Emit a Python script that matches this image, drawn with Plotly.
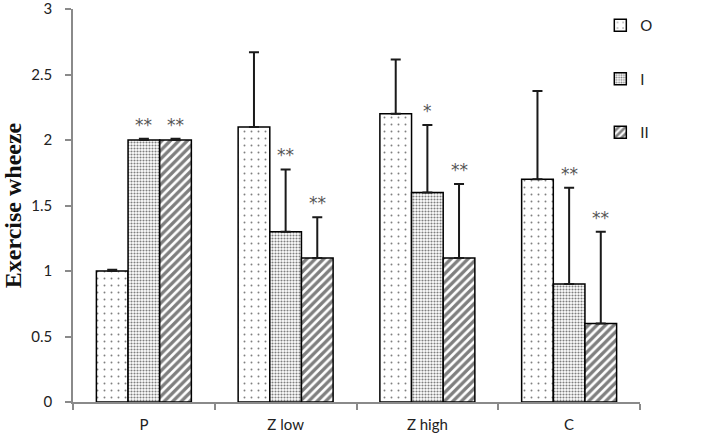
import plotly.graph_objects as go

categories = ["P", "Z low", "Z high", "C"]
series_names = ["O", "I", "II"]
values_O = [1.0, 2.1, 2.2, 1.7]
values_I = [2.0, 1.3, 1.6, 0.9]
values_II = [2.0, 1.1, 1.1, 0.6]
err_O = [0.01, 0.57, 0.415, 0.675]
err_I = [0.01, 0.475, 0.515, 0.735]
err_II = [0.01, 0.31, 0.565, 0.70]
sig_I = ["**", "**", "*", "**"]
sig_II = ["**", "**", "**", "**"]

patterns = [
    dict(shape=".", size=7, solidity=0.06, fgcolor="black", bgcolor="white", fillmode="overlay"),
    dict(shape=".", size=3, solidity=0.38, fgcolor="black", bgcolor="white", fillmode="overlay"),
    dict(shape="/", size=6, solidity=0.55, fgcolor="black", bgcolor="white", fillmode="overlay"),
]

fig = go.Figure()
for i, (name, vals, errs) in enumerate(zip(series_names,
                                            [values_O, values_I, values_II],
                                            [err_O, err_I, err_II])):
    fig.add_trace(go.Bar(
        x=categories, y=vals, name=name, legendgroup=name,
        marker=dict(color="white", line=dict(color="black", width=1.5), pattern=patterns[i]),
        error_y=dict(type="data", array=errs, arrayminus=[0] * len(errs), symmetric=False,
                     color="#1a1a1a", thickness=2, width=5),
    ))

bar_px = 31.7
for vals, errs, sigs, shift in [(values_I, err_I, sig_I, 0.0), (values_II, err_II, sig_II, bar_px)]:
    for c, v, e, s in zip(categories, vals, errs, sigs):
        fig.add_annotation(x=c, y=v + e, text=s, showarrow=False, xref="x", yref="y",
                           xshift=shift, yshift=14, yanchor="middle",
                           font=dict(family="DejaVu Sans", size=17, color="#555555"))

fig.update_layout(
    width=704, height=441,
    margin=dict(l=73, r=64, t=9, b=39, autoexpand=False),
    paper_bgcolor="white", plot_bgcolor="white",
    barmode="group", bargap=0.33, bargroupgap=0,
    font=dict(family="Lato", size=15, color="#222222"),
    showlegend=True,
    legend=dict(x=0.93, y=1.0, xanchor="left", yanchor="top", tracegroupgap=31,
                bgcolor="rgba(0,0,0,0)", font=dict(family="Lato", size=15, color="#222222"),
                itemwidth=30),
    xaxis=dict(showline=True, linecolor="#8a8a8a", linewidth=1.5, ticks="outside",
               tickson="boundaries", ticklen=6, tickcolor="#8a8a8a", tickwidth=1.5,
               showgrid=False, ticklabelstandoff=8, automargin=False),
    yaxis=dict(range=[0, 3], dtick=0.5, showline=True, linecolor="#8a8a8a", linewidth=1.5,
               ticks="outside", ticklen=6, tickcolor="#8a8a8a", tickwidth=1.5,
               showgrid=False, zeroline=False, ticklabelstandoff=10, automargin=False,
               ticklabeloverflow="allow",
               title=dict(text="<b>Exercise wheeze</b>", standoff=10,
                          font=dict(family="Liberation Serif", size=24, color="#111111"))),
)

fig.write_html("out.html", config={"displayModeBar": False},
               post_script="document.body.style.margin='0';document.body.style.overflow='hidden';")
